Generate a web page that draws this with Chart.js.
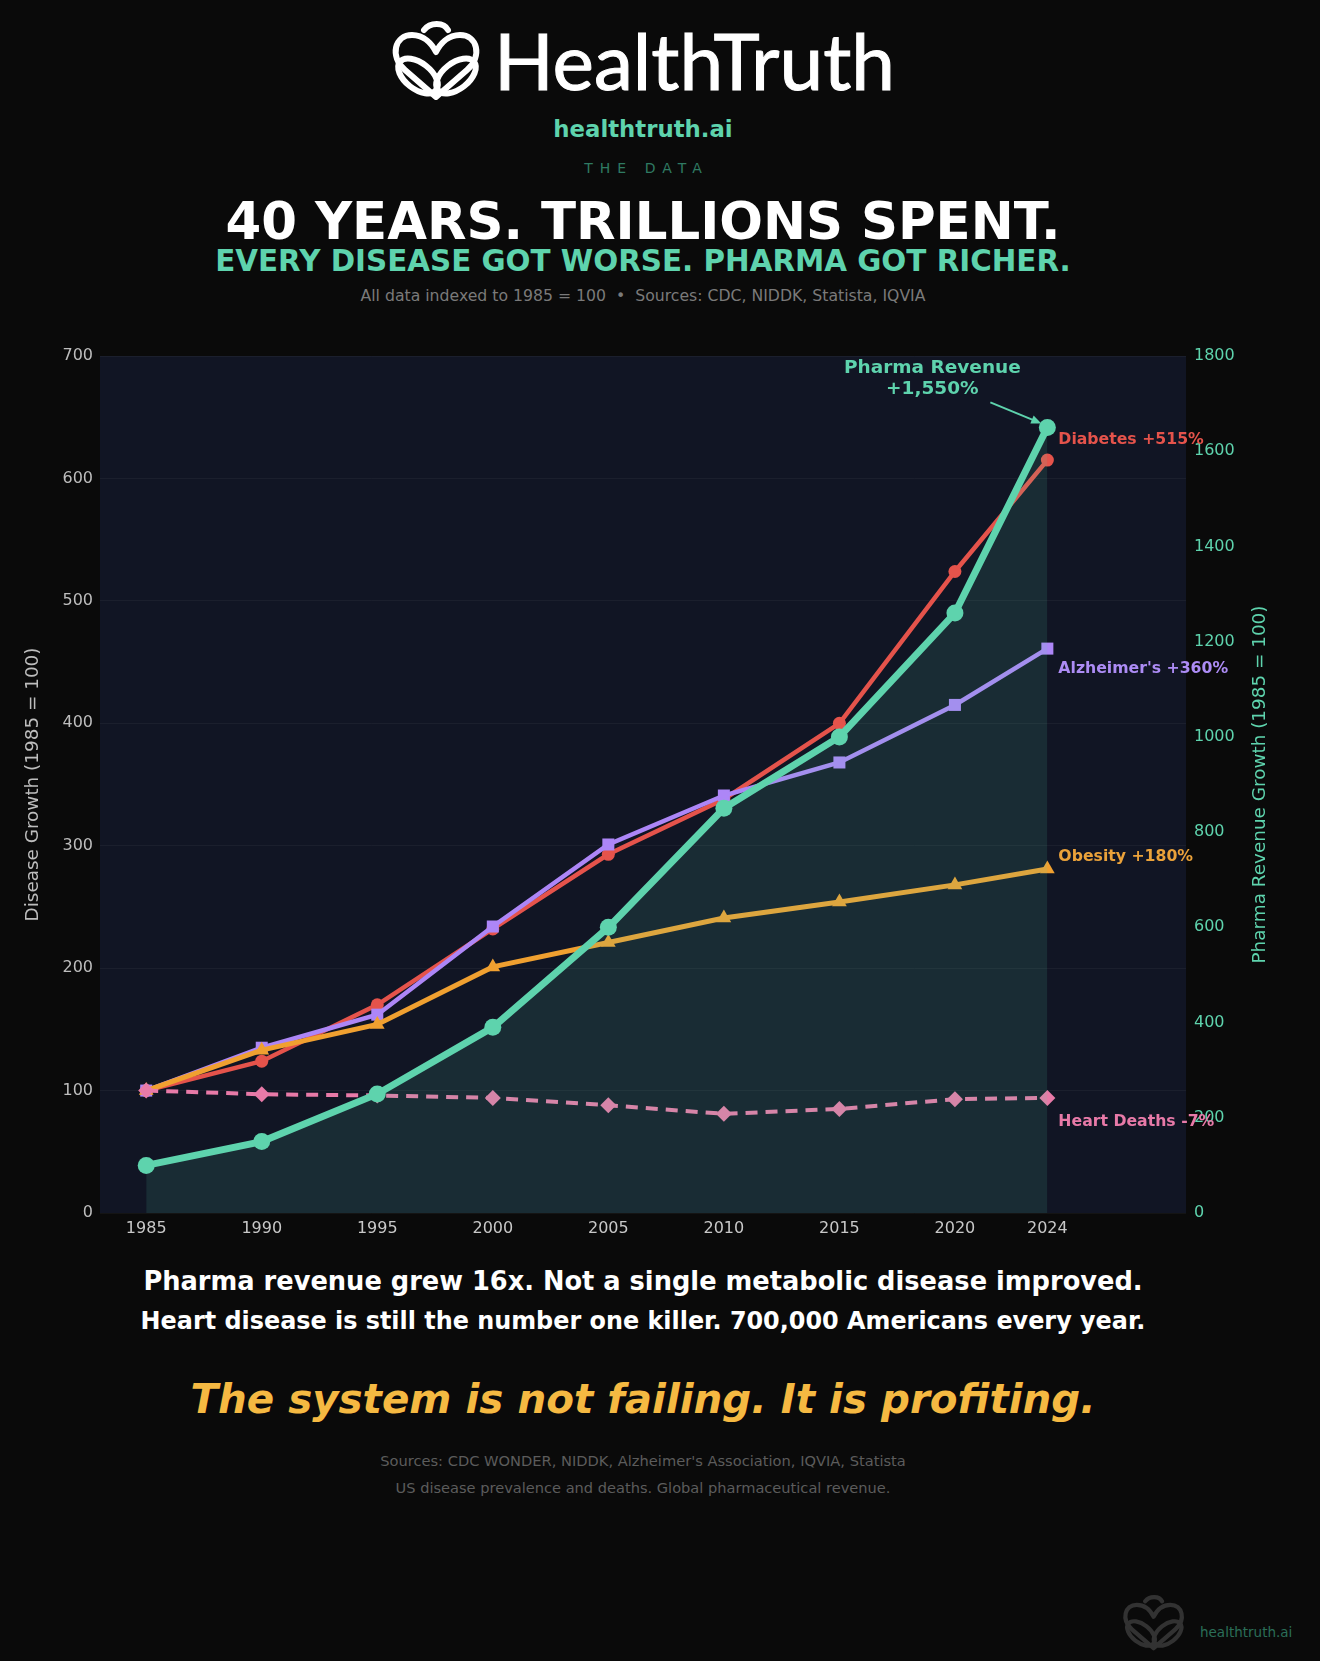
<!DOCTYPE html>
<html>
<head>
<meta charset="utf-8">
<title>HealthTruth - 40 years</title>
<script src="https://cdn.jsdelivr.net/npm/chart.js@4.4.1/dist/chart.umd.min.js"></script>
<style>
  html, body { margin: 0; padding: 0; background: #0a0a0a; }
  body { width: 1320px; height: 1661px; position: relative; overflow: hidden; font-family: "DejaVu Sans", sans-serif; }
  .t { position: absolute; left: 0; width: 1286px; text-align: center; line-height: 1; white-space: nowrap; }
  #chartBox { position: absolute; left: 0; top: 330px; width: 1286px; height: 920px; }
  .mark { position: absolute; }
</style>
</head>
<body>

<!-- logo -->
<svg class="mark" style="left:0;top:0" width="1286" height="110">
  <g fill="none" stroke="#ffffff" stroke-width="6" stroke-linejoin="round" stroke-linecap="round">
    <path d="M436 97 L405 70 C389 56 395 35 412 35 C424 35 432 44 436 52 C440 44 448 35 460 35 C477 35 483 56 467 70 Z"/>
    <ellipse cx="418" cy="76" rx="23" ry="13" transform="rotate(38 418 76)"/>
    <ellipse cx="456" cy="76" rx="23" ry="13" transform="rotate(-38 456 76)"/>
    <path d="M424 30 C430 22 444 22 448 30"/>
  </g>
  <text x="494" y="90" font-family="Lato, 'DejaVu Sans', sans-serif" font-size="77" fill="#ffffff" stroke="#ffffff" stroke-width="1" textLength="401" lengthAdjust="spacingAndGlyphs">HealthTruth</text>
</svg>

<div class="t" style="top:117.5px;font-size:22.8px;font-weight:bold;color:#5ed3ad;">healthtruth.ai</div>
<div class="t" style="top:160.5px;font-size:14px;letter-spacing:7px;padding-left:7px;box-sizing:border-box;color:#2f7a62;">THE DATA</div>
<div class="t" style="top:195.5px;font-size:51.4px;font-weight:bold;color:#ffffff;">40 YEARS. TRILLIONS SPENT.</div>
<div class="t" style="top:246.5px;font-size:29.4px;font-weight:bold;color:#5ed3ad;">EVERY DISEASE GOT WORSE. PHARMA GOT RICHER.</div>
<div class="t" style="top:288px;font-size:15.7px;color:#7a7a7a;">All data indexed to 1985 = 100 &nbsp;•&nbsp; Sources: CDC, NIDDK, Statista, IQVIA</div>

<div id="chartBox"><canvas id="trendChart" width="1286" height="920"></canvas></div>

<div class="t" style="top:1268.5px;font-size:25.7px;font-weight:bold;color:#ffffff;">Pharma revenue grew 16x. Not a single metabolic disease improved.</div>
<div class="t" style="top:1310px;font-size:23.9px;font-weight:bold;color:#ffffff;">Heart disease is still the number one killer. 700,000 Americans every year.</div>
<div class="t" style="top:1378.5px;font-size:40.4px;font-weight:bold;font-style:italic;color:#f5b942;">The system is not failing. It is profiting.</div>
<div class="t" style="top:1454px;font-size:14.65px;color:#5c5c5c;">Sources: CDC WONDER, NIDDK, Alzheimer's Association, IQVIA, Statista</div>
<div class="t" style="top:1481px;font-size:14.6px;color:#5c5c5c;">US disease prevalence and deaths. Global pharmaceutical revenue.</div>

<!-- watermark -->
<svg class="mark" style="left:1120px;top:1590px;opacity:0.16" width="70" height="66" viewBox="388 18 100 86">
  <g fill="none" stroke="#ffffff" stroke-width="6" stroke-linejoin="round" stroke-linecap="round">
    <path d="M436 97 L405 70 C389 56 395 35 412 35 C424 35 432 44 436 52 C440 44 448 35 460 35 C477 35 483 56 467 70 Z"/>
    <ellipse cx="418" cy="76" rx="23" ry="13" transform="rotate(38 418 76)"/>
    <ellipse cx="456" cy="76" rx="23" ry="13" transform="rotate(-38 456 76)"/>
    <path d="M424 30 C430 22 444 22 448 30"/>
  </g>
</svg>
<div class="mark" style="left:1200px;top:1626px;font-size:13.5px;line-height:1;color:#2a6e58;">healthtruth.ai</div>

<script>
// values (1985 = 100)
const years = [1985, 1990, 1995, 2000, 2005, 2010, 2015, 2020, 2024];
const diabetes = [100, 124, 170, 232, 293, 338, 400, 524, 615];
const alzheimers = [100, 135, 162, 234, 301, 341, 368, 415, 461];
const obesity = [100, 133, 154, 201, 221, 241, 254, 268, 281];
const heartDeaths = [100, 97, 96, 94, 88, 81, 85, 93, 94];
const pharmaRevenue = [100, 150, 250, 390, 600, 850, 1000, 1260, 1650];

const endLabels = ['Diabetes +515%', "Alzheimer's +360%", 'Obesity +180%', 'Heart Deaths -7%'];
const pharmaNote = ['Pharma Revenue', '+1,550%'];
const leftTitle = 'Disease Growth (1985 = 100)';
const rightTitle = 'Pharma Revenue Growth (1985 = 100)';

const FONT = '"DejaVu Sans", sans-serif';
const GREEN = '#5ed3ad';

function pts(arr) {
	return arr.map((v, i) => ({ x: years[i], y: v }));
}

// plot area background
const plotBg = {
	id: 'plotBg',
	beforeDraw(chart) {
		const { ctx, chartArea: a } = chart;
		ctx.save();
		ctx.fillStyle = '#111524';
		ctx.fillRect(a.left, a.top, a.right - a.left, a.bottom - a.top);
		ctx.restore();
	},
};

// labels at line ends, pharma note + arrow, right axis title
const annotate = {
	id: 'annotate',
	afterDatasetsDraw(chart) {
		const ctx = chart.ctx;
		ctx.save();
		ctx.font = 'bold 15.7px ' + FONT;
		ctx.textAlign = 'left';
		ctx.textBaseline = 'middle';
		chart.data.datasets.forEach((ds, i) => {
			if (!ds.endLabel) return;
			const meta = chart.getDatasetMeta(i);
			const p = meta.data[meta.data.length - 1];
			ctx.fillStyle = ds.endLabel.color;
			ctx.fillText(ds.endLabel.text, p.x + 11, p.y + ds.endLabel.dy);
		});

		// pharma note
		const pm = chart.getDatasetMeta(4);
		const pp = pm.data[pm.data.length - 1];
		ctx.fillStyle = GREEN;
		ctx.font = 'bold 18.5px ' + FONT;
		ctx.textAlign = 'center';
		ctx.fillText(pharmaNote[0], pp.x - 115, pp.y - 59);
		ctx.fillText(pharmaNote[1], pp.x - 115, pp.y - 38);

		// arrow
		const x0 = pp.x - 57, y0 = pp.y - 25;
		const x1 = pp.x - 6, y1 = pp.y - 4;
		const ang = Math.atan2(y1 - y0, x1 - x0);
		ctx.strokeStyle = GREEN;
		ctx.lineWidth = 2;
		ctx.beginPath();
		ctx.moveTo(x0, y0);
		ctx.lineTo(x1 - 6 * Math.cos(ang), y1 - 6 * Math.sin(ang));
		ctx.stroke();
		ctx.beginPath();
		ctx.moveTo(x1, y1);
		ctx.lineTo(x1 - 11 * Math.cos(ang - 0.4), y1 - 11 * Math.sin(ang - 0.4));
		ctx.lineTo(x1 - 11 * Math.cos(ang + 0.4), y1 - 11 * Math.sin(ang + 0.4));
		ctx.closePath();
		ctx.fillStyle = GREEN;
		ctx.fill();

		// right axis title, reading bottom to top
		const a = chart.chartArea;
		ctx.translate(1260, (a.top + a.bottom) / 2);
		ctx.rotate(-Math.PI / 2);
		ctx.font = '18.4px ' + FONT;
		ctx.fillStyle = GREEN;
		ctx.textAlign = 'center';
		ctx.fillText(rightTitle, 0, 0);
		ctx.restore();
	},
};

Chart.defaults.font.family = FONT;

const trendChart = new Chart(document.getElementById('trendChart').getContext('2d'), {
	type: 'line',
	data: {
		datasets: [
			{
				label: 'Diabetes',
				data: pts(diabetes),
				yAxisID: 'y',
				order: 5,
				borderColor: '#e5534b',
				backgroundColor: '#e5534b',
				borderWidth: 4.5,
				pointStyle: 'circle',
				pointRadius: 6.5,
				pointBorderWidth: 0,
				endLabel: { text: endLabels[0], color: '#e5534b', dy: -20 },
			},
			{
				label: "Alzheimer's",
				data: pts(alzheimers),
				yAxisID: 'y',
				order: 4,
				borderColor: '#ad86f7',
				backgroundColor: '#ad86f7',
				borderWidth: 4.5,
				pointStyle: 'rect',
				pointRadius: 8.5,
				pointBorderWidth: 0,
				endLabel: { text: endLabels[1], color: '#ad8cf5', dy: 20 },
			},
			{
				label: 'Obesity',
				data: pts(obesity),
				yAxisID: 'y',
				order: 3,
				borderColor: '#f0a030',
				backgroundColor: '#f0a030',
				borderWidth: 5,
				pointStyle: 'triangle',
				pointRadius: 8.5,
				pointBorderWidth: 0,
				endLabel: { text: endLabels[2], color: '#eba23a', dy: -12 },
			},
			{
				label: 'Heart Deaths',
				data: pts(heartDeaths),
				yAxisID: 'y',
				order: 2,
				borderColor: '#e87aa8',
				backgroundColor: '#e87aa8',
				borderWidth: 4,
				borderDash: [12, 8],
				pointStyle: 'rectRot',
				pointRadius: 8,
				pointBorderWidth: 0,
				endLabel: { text: endLabels[3], color: '#e87aa8', dy: 24 },
			},
			{
				label: 'Pharma Revenue',
				data: pts(pharmaRevenue),
				yAxisID: 'y1',
				order: 1,
				borderColor: GREEN,
				backgroundColor: 'rgba(94, 211, 173, 0.12)',
				fill: 'origin',
				borderWidth: 7,
				pointStyle: 'circle',
				pointRadius: 8.5,
				pointBackgroundColor: GREEN,
				pointBorderWidth: 0,
			},
		],
	},
	options: {
		responsive: false,
		animation: false,
		layout: { padding: { top: 26, left: 0, right: 0, bottom: 0 } },
		elements: { line: { tension: 0 } },
		plugins: {
			legend: { display: false },
			tooltip: { enabled: false },
		},
		scales: {
			x: {
				type: 'linear',
				min: 1983,
				max: 2030,
				afterBuildTicks: (s) => { s.ticks = years.map((v) => ({ value: v })); },
				afterFit: (s) => { s.height = 37; },
				grid: { display: false, drawTicks: false },
				border: { display: false },
				ticks: {
					color: '#c8c8c8',
					font: { size: 16 },
					padding: 6,
					maxRotation: 0,
					autoSkip: false,
					callback: (v) => String(v),
				},
			},
			y: {
				position: 'left',
				min: 0,
				max: 700,
				afterFit: (s) => { s.width = 100; },
				grid: { color: 'rgba(255,255,255,0.045)', drawTicks: false },
				border: { display: false },
				ticks: { stepSize: 100, color: '#bdbdbd', font: { size: 16 }, padding: 7, callback: (v) => String(v) },
				title: {
					display: true,
					text: leftTitle,
					color: '#bdbdbd',
					font: { size: 18.4 },
					padding: { top: 22, bottom: 0 },
				},
			},
			y1: {
				position: 'right',
				min: 0,
				max: 1800,
				afterFit: (s) => { s.width = 100; },
				grid: { display: false, drawTicks: false },
				border: { display: false },
				ticks: { stepSize: 200, color: GREEN, font: { size: 16 }, padding: 8, callback: (v) => String(v) },
			},
		},
	},
	plugins: [plotBg, annotate],
});
</script>
</body>
</html>
